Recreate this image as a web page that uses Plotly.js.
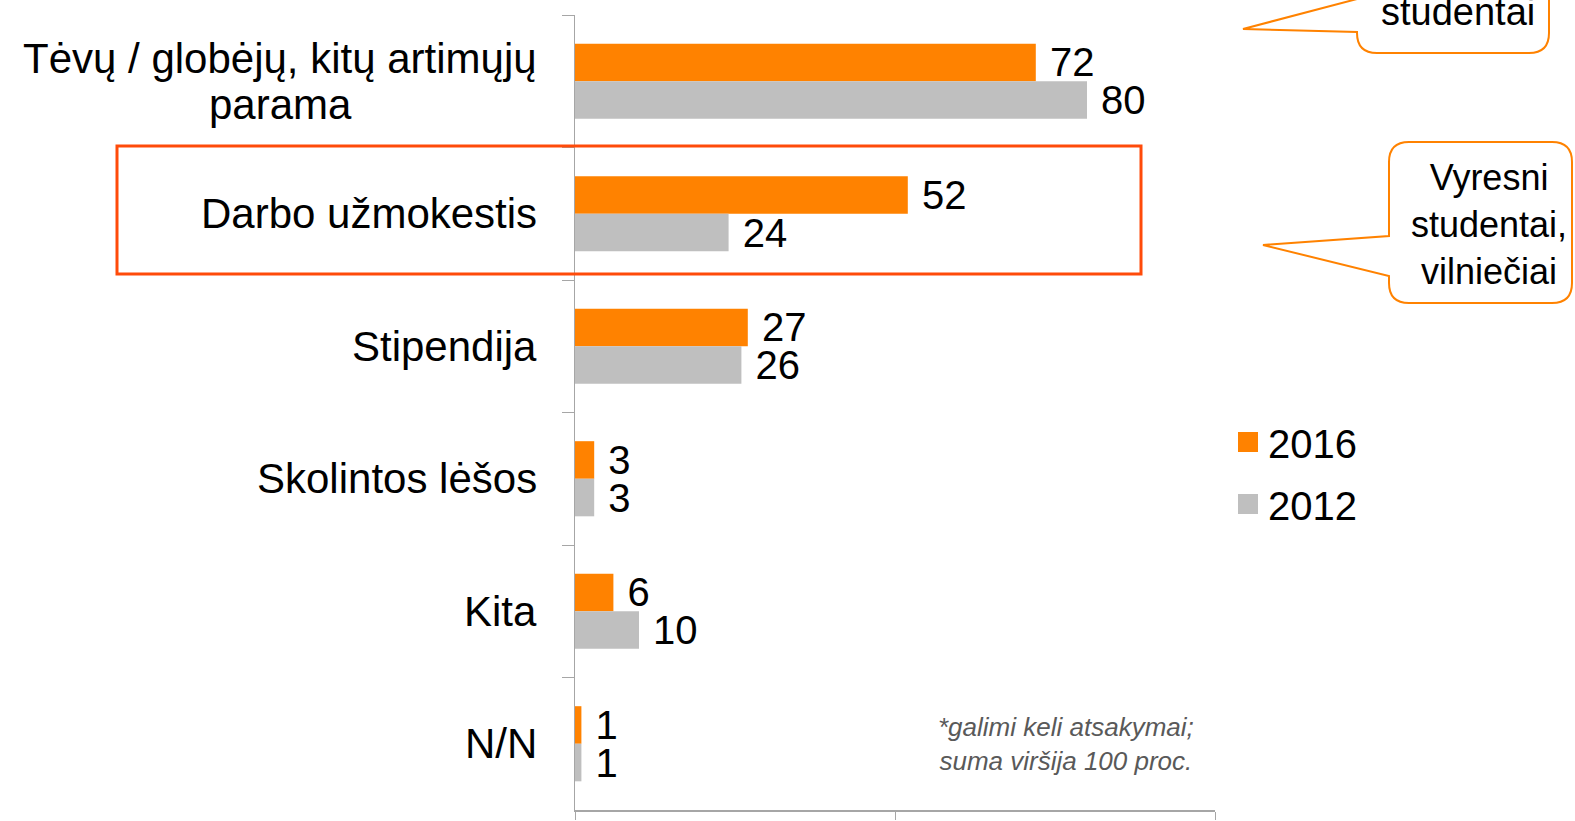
<!DOCTYPE html>
<html>
<head>
<meta charset="utf-8">
<script src="https://cdn.plot.ly/plotly-3.0.1.min.js"></script>
<style>html,body{margin:0;padding:0;background:#fff}#chart{width:1575px;height:821px}</style>
</head>
<body>
<div id="chart"></div>
<script>
// ---- data ----
const categories = ["Tėvų / globėjų, kitų artimųjų<br>parama", "Darbo užmokestis", "Stipendija", "Skolintos lėšos", "Kita", "N/N"];
const values2016 = [72, 52, 27, 3, 6, 1];
const values2012 = [80, 24, 26, 3, 10, 1];
const seriesNames = ["2016", "2012"];
const xTicks = [0, 50, 100];
const footnote = "*galimi keli atsakymai;<br>suma viršija 100 proc.";
const callout1Text = "studentai";
const callout2Text = "Vyresni<br>studentai,<br>vilniečiai";

// ---- layout geometry helpers (decoration only) ----
const W = 1575, H = 821;
const M = {l: 575, r: 360, t: 15, b: 11};
const PW = W - M.l - M.r, PH = H - M.t - M.b;
const px = x => (x - M.l) / PW;
const py = y => (H - M.b - y) / PH;
const FONT = 'Arial, "Liberation Sans", sans-serif';
const CAT_SIZE = 42;

function pathFrom(points) {
  return points.map(p => {
    if (p[0] === 'Q') return `Q ${px(p[1])},${py(p[2])} ${px(p[3])},${py(p[4])}`;
    return `${p[0]} ${px(p[1])},${py(p[2])}`;
  }).join(' ') + ' Z';
}

const callout1 = pathFrom([
  ['M', 1377, -60], ['L', 1529, -60], ['Q', 1549, -60, 1549, -40],
  ['L', 1549, 33], ['Q', 1549, 53, 1529, 53], ['L', 1377, 53],
  ['Q', 1357, 53, 1357, 33], ['L', 1357, 32], ['L', 1243, 29], ['L', 1357, -1],
  ['L', 1357, -40], ['Q', 1357, -60, 1377, -60]
]);
const callout2 = pathFrom([
  ['M', 1409, 142], ['L', 1552, 142], ['Q', 1572, 142, 1572, 162],
  ['L', 1572, 283], ['Q', 1572, 303, 1552, 303], ['L', 1409, 303],
  ['Q', 1389, 303, 1389, 283], ['L', 1389, 276], ['L', 1263, 245], ['L', 1389, 236],
  ['L', 1389, 162], ['Q', 1389, 142, 1409, 142]
]);

const NBSP = '\u00A0';
const traces = [
  {type: 'bar', orientation: 'h', name: seriesNames[0], x: values2016, y: categories,
   marker: {color: '#FF8200'}, texttemplate: NBSP + '%{x}', textposition: 'outside',
   constraintext: 'none', cliponaxis: false, textfont: {family: FONT, size: 40, color: '#000'},
   legendgroup: 'a', hoverinfo: 'x+y'},
  {type: 'bar', orientation: 'h', name: seriesNames[1], x: values2012, y: categories,
   marker: {color: '#BFBFBF'}, texttemplate: NBSP + '%{x}', textposition: 'outside',
   constraintext: 'none', cliponaxis: false, textfont: {family: FONT, size: 40, color: '#000'},
   legendgroup: 'b', hoverinfo: 'x+y'}
];

// category labels: lines centred on each other, block right-aligned to the axis
const ctx = document.createElement('canvas').getContext('2d');
ctx.font = CAT_SIZE + 'px "Liberation Sans", Arial, sans-serif';
const LINE_GAP = 46;
const annotations = [];
categories.forEach(c => {
  const lines = c.split('<br>');
  const maxW = Math.max(...lines.map(l => ctx.measureText(l).width));
  lines.forEach((l, i) => {
    annotations.push({
      xref: 'paper', yref: 'y', x: 0, y: c, xanchor: 'center', yanchor: 'middle',
      xshift: -38 - maxW / 2, yshift: -(i - (lines.length - 1) / 2) * LINE_GAP,
      text: l, showarrow: false, borderpad: 0,
      font: {family: FONT, size: CAT_SIZE, color: '#000'}
    });
  });
});
annotations.push({
  xref: 'paper', yref: 'paper', x: px(1066), y: py(744), xanchor: 'center', yanchor: 'middle',
  text: '<i>' + footnote + '</i>', align: 'center', showarrow: false,
  font: {family: FONT, size: 26, color: '#595959'}
});
annotations.push({
  xref: 'paper', yref: 'paper', x: px(1458), y: py(12), xanchor: 'center', yanchor: 'middle',
  text: callout1Text, align: 'center', showarrow: false,
  font: {family: FONT, size: 38, color: '#000'}
});
annotations.push({
  xref: 'paper', yref: 'paper', x: px(1489), y: py(224), xanchor: 'center', yanchor: 'middle',
  text: callout2Text, align: 'center', showarrow: false,
  font: {family: FONT, size: 36, color: '#000'}
});

const layout = {
  width: W, height: H,
  margin: M,
  paper_bgcolor: '#fff', plot_bgcolor: '#fff',
  barmode: 'group', bargap: 0.433, bargroupgap: 0,
  font: {family: FONT, color: '#000'},
  xaxis: {range: [0, 100], tickvals: xTicks, showticklabels: false, ticks: 'outside', ticklen: 8,
          tickcolor: '#A6A6A6', showline: true, linecolor: '#A6A6A6', linewidth: 1.5,
          showgrid: false, zeroline: false, fixedrange: true},
  yaxis: {type: 'category', autorange: 'reversed', showticklabels: false, ticks: 'outside',
          tickson: 'boundaries', ticklen: 12, tickcolor: '#A6A6A6', showline: true,
          linecolor: '#A6A6A6', linewidth: 1.5, showgrid: false, zeroline: false, fixedrange: true},
  showlegend: true,
  legend: {x: px(1228), xanchor: 'left', y: py(473), yanchor: 'middle', tracegroupgap: 7,
           font: {family: FONT, size: 40, color: '#000'}, bgcolor: 'rgba(0,0,0,0)'},
  shapes: [
    {type: 'rect', xref: 'paper', yref: 'paper', x0: px(117), x1: px(1141), y0: py(146), y1: py(274),
     line: {color: '#FF4B0A', width: 3}, fillcolor: 'rgba(0,0,0,0)', layer: 'above'},
    {type: 'path', xref: 'paper', yref: 'paper', path: callout1, line: {color: '#FF8200', width: 2},
     fillcolor: '#fff', layer: 'above'},
    {type: 'path', xref: 'paper', yref: 'paper', path: callout2, line: {color: '#FF8200', width: 2},
     fillcolor: '#fff', layer: 'above'}
  ],
  annotations: annotations
};

Plotly.newPlot('chart', traces, layout, {displayModeBar: false, staticPlot: true}).then(gd => {
  // enlarge the legend swatches to match the reference's square keys
  gd.querySelectorAll('.legend .legendpoints path').forEach(p => {
    p.setAttribute('d', 'M10,10H-10V-10H10Z');
  });
});
</script>
</body>
</html>
